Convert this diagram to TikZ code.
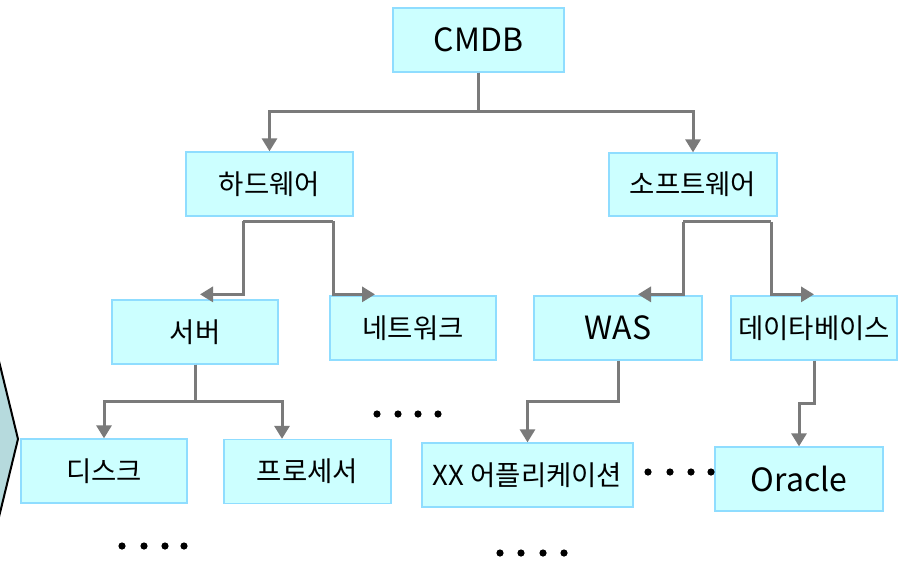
\documentclass[tikz,border=0pt]{standalone}
\usepackage{fontspec}
\setmainfont{Noto Sans CJK KR}
\usetikzlibrary{arrows.meta}
\definecolor{boxfill}{HTML}{CCFFFF}
\definecolor{boxline}{HTML}{8FDDFF}
\definecolor{connc}{HTML}{7A7A7A}
\definecolor{chev}{HTML}{B6DADD}
\tikzset{
  box/.style={draw=boxline, fill=boxfill, line width=1.3pt, inner sep=0pt,
    minimum height=64pt, minimum width=166pt, font=\fontsize{27.5}{30}\selectfont},
  latin/.style={font=\fontsize{32}{35}\selectfont},
  conn/.style={draw=connc, line width=3pt, -{Triangle[length=13pt,width=15pt]}},
  bar/.style={draw=connc, line width=3pt},
  dotc/.style={fill=black}
}
\begin{document}
\begin{tikzpicture}[x=1pt,y=-1pt]
\useasboundingbox (0,0) rectangle (899,560);
% chevron at left edge
\filldraw[fill=chev, draw=black, line width=2pt] (-12,316) -- (18,439) -- (-12,562);

% nodes
\node[box, latin, minimum width=171pt] (cmdb) at (478.5,40) {CMDB};
\node[box, minimum width=167pt] (hw) at (269.5,184) {하드웨어};
\node[box, minimum width=168pt, minimum height=63pt] (sw) at (693,184.5) {소프트웨어};
\node[box] (server) at (195,332) {서버};
\node[box] (network) at (413,328) {네트워크};
\node[box, latin, minimum width=168pt] (was) at (618,328) {WAS};
\node[box] (db) at (814,328) {데이타베이스};
\node[box] (disk) at (104,471) {디스크};
\node[box, minimum width=167pt] (proc) at (307.5,471.5) {프로세서};
\node[box, minimum width=211pt] (xx) at (527.5,475) {XX 어플리케이션};
\node[box, latin, minimum width=168pt] (oracle) at (799,479) {Oracle};

% arrow tips that end beside a box
\coordinate (tserver) at ([shift={(5,-5)}]server.north);
\coordinate (tnet) at ([shift={(-38,-1)}]network.north);
\coordinate (twas) at ([shift={(20,-1)}]was.north);
\coordinate (tdb) at ([shift={(0,-1)}]db.north);
\coordinate (tproc) at ([xshift=-25.5]proc.north);

% connectors
\draw[conn] (cmdb.south) -- ++(0,39) -| (hw.north);
\draw[conn] (cmdb.south) -- ++(0,39) -| (sw.north);

\draw[bar] ([shift={(-26.5,4.5)}]hw.south) -- ++(90,0);
\draw[conn] ([shift={(-26.5,4.5)}]hw.south) |- (tserver);
\draw[conn] ([shift={(63.5,4.5)}]hw.south) |- (tnet);

\draw[bar] ([shift={(-10,5)}]sw.south) -- ++(88,0);
\draw[conn] ([shift={(-10,5)}]sw.south) |- (twas);
\draw[conn] ([shift={(78,5)}]sw.south) |- (tdb);

\draw[conn] (server.south) -- ++(0,37) -| (disk.north);
\draw[conn] (server.south) -- ++(0,37) -| (tproc);

\draw[conn] (was.south) -- ++(0,41) -| (xx.north);
\draw[conn] (db.south) -- ++(0,43) -| (oracle.north);

% ellipsis dots
\foreach \x in {377,398,418,438} \fill[dotc] (\x,414) circle (3.6);
\foreach \x in {648,670,691,711} \fill[dotc] (\x,472) circle (3.6);
\foreach \x in {122,144,165,184} \fill[dotc] (\x,546) circle (3.6);
\foreach \x in {500,521,543,564} \fill[dotc] (\x,553) circle (3.6);
\end{tikzpicture}
\end{document}
